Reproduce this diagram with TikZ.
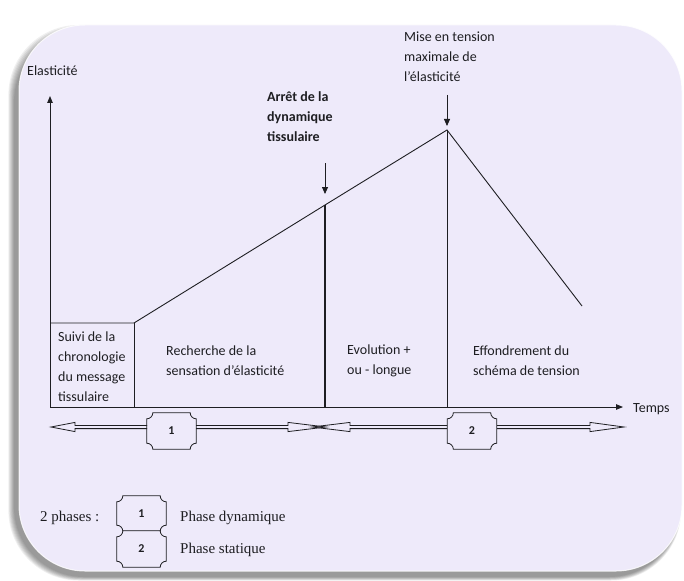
\documentclass[tikz,border=0pt]{standalone}
\usepackage{fontspec}
\setmainfont{Carlito}
\newfontfamily\legendfont{Liberation Serif}
\usetikzlibrary{arrows.meta,calc}
\definecolor{panel}{RGB}{238,234,250}
\definecolor{ink}{RGB}{30,30,34}

% box with concave (notched) corners around a named node
\newcommand\plaquebox[4]{% name, centre, height, label
  \node[numbox, minimum height=#3] (#1) at (#2) {#4};
  \draw[boxline]
    ($(#1.north west)+(6,0)$) -- ($(#1.north east)+(-6,0)$)
    .. controls ($(#1.north east)+(-6,3.3)$) and ($(#1.north east)+(-3.3,6)$) .. ($(#1.north east)+(0,6)$)
    -- ($(#1.south east)+(0,-6)$)
    .. controls ($(#1.south east)+(-3.3,-6)$) and ($(#1.south east)+(-6,-3.3)$) .. ($(#1.south east)+(-6,0)$)
    -- ($(#1.south west)+(6,0)$)
    .. controls ($(#1.south west)+(6,-3.3)$) and ($(#1.south west)+(3.3,-6)$) .. ($(#1.south west)+(0,-6)$)
    -- ($(#1.north west)+(0,6)$)
    .. controls ($(#1.north west)+(3.3,6)$) and ($(#1.north west)+(6,3.3)$) .. cycle;
}

% hollow arrow: start, base of head, tip
\newcommand\hollowarrow[3]{%
  \draw[boxline, line join=miter]
    ($(#1)+(0,-1.6)$) -- ($(#2)+(0,-1.6)$) -- ($(#2)+(0,-4.6)$) -- (#3)
    -- ($(#2)+(0,4.6)$) -- ($(#2)+(0,1.6)$) -- ($(#1)+(0,1.6)$);
}

\begin{document}
\begin{tikzpicture}[x=1pt,y=-1pt,
  lbl/.style={font=\fontsize{14}{20}\selectfont, text=ink, inner sep=0pt, anchor=west, align=left},
  bold lbl/.style={lbl, font=\fontsize{14}{20}\selectfont\bfseries},
  legend/.style={font=\legendfont\fontsize{15}{18}\selectfont, text=ink, inner sep=0pt, anchor=west},
  numbox/.style={fill=panel, inner sep=0pt, minimum width=49, font=\fontsize{12}{14}\selectfont\bfseries, text=ink},
  boxline/.style={draw=ink, line width=0.8pt},
  graph/.style={draw=ink, line width=0.9pt},
  axis/.style={graph, -{Triangle[length=7pt,width=5.5pt]}},
  pointer/.style={draw=ink, line width=0.8pt, -{Triangle[length=7pt,width=6pt]}}]

\useasboundingbox (0,0) rectangle (684,580);
\fill[white] (0,0) rectangle (684,580);

% soft shadow under the panel, falling to the lower left
\foreach \e in {0,1,...,7}
  \fill[black, opacity=0.06, rounded corners=70] (14-\e*0.8,32-\e) rectangle (679+\e*0.3,577+\e*0.5);

% panel
\fill[panel, rounded corners=66] (19,25) rectangle (682,571);
\draw[white, line width=1pt, opacity=0.8, rounded corners=66] (19,25) rectangle (682,571);

% axes
\coordinate (O) at (50,407);
\coordinate (ytip) at (50,96);
\coordinate (xtip) at (623,407);
\draw[axis] (O) -- (ytip);
\draw[axis] (O) -- (xtip);

% elasticity curve
\coordinate (c0) at (50,323);
\coordinate (c1) at (134,323);
\coordinate (c2) at (325,205);
\coordinate (c3) at (447,130);
\coordinate (c4) at (582,306);
\coordinate (b1) at (134,407);
\coordinate (b2) at (325,407);
\coordinate (b3) at (447,407);
\draw[graph, line join=miter] (c0) -- (c1) -- (c2) -- (c3) -- (c4);
\draw[graph] (c1) -- (b1);
\draw[graph, line width=1.8pt] (c2) -- (b2);
\draw[graph] (c3) -- (b3);

% pointers
\coordinate (p1s) at (325,163);
\coordinate (p1e) at (325,194);
\coordinate (p2s) at (447,95);
\coordinate (p2e) at (447,126);
\draw[pointer] (p1s) -- (p1e);
\draw[pointer] (p2s) -- (p2e);

% labels
\node[lbl] (ylab) at (27,71) {Elasticité};
\node[bold lbl] (stop) at (267,117) {Arrêt de la\\dynamique\\tissulaire};
\node[lbl] (max) at (404,57) {Mise en tension\\maximale de\\l’élasticité};
\node[lbl] (suivi) at (58,367) {Suivi de la\\chronologie\\du message\\tissulaire};
\node[lbl] (rech) at (166,361) {Recherche de la\\sensation d’élasticité};
\node[lbl] (evol) at (347,361) {Evolution +\\ou - longue};
\node[lbl] (effo) at (473,361) {Effondrement du\\schéma de tension};
\node[lbl] (temps) at (633,409) {Temps};

% phase arrows
\plaquebox{ph1}{171.5,431}{36}{1}
\plaquebox{ph2}{472,431}{36}{2}
\coordinate (r1w) at (147,427);
\coordinate (r1wb) at (75,427);
\coordinate (r1wt) at (51,427);
\coordinate (r1e) at (196,427);
\coordinate (r1eb) at (288,427);
\coordinate (r1et) at (326,427);
\coordinate (r2w) at (447,427);
\coordinate (r2wb) at (350,427);
\coordinate (r2wt) at (312,427);
\coordinate (r2e) at (497,427);
\coordinate (r2eb) at (590,427);
\coordinate (r2et) at (624,427);
\hollowarrow{r1w}{r1wb}{r1wt}
\hollowarrow{r1e}{r1eb}{r1et}
\hollowarrow{r2w}{r2wb}{r2wt}
\hollowarrow{r2e}{r2eb}{r2et}

% legend
\node[legend] (phases) at (40,518) {2 phases :};
\plaquebox{lg1}{141.5,513.5}{35}{1}
\plaquebox{lg2}{141.5,549}{36}{2}
\node[legend] (dyn) at (180,518) {Phase dynamique};
\node[legend] (stat) at (180,550) {Phase statique};

\end{tikzpicture}
\end{document}
